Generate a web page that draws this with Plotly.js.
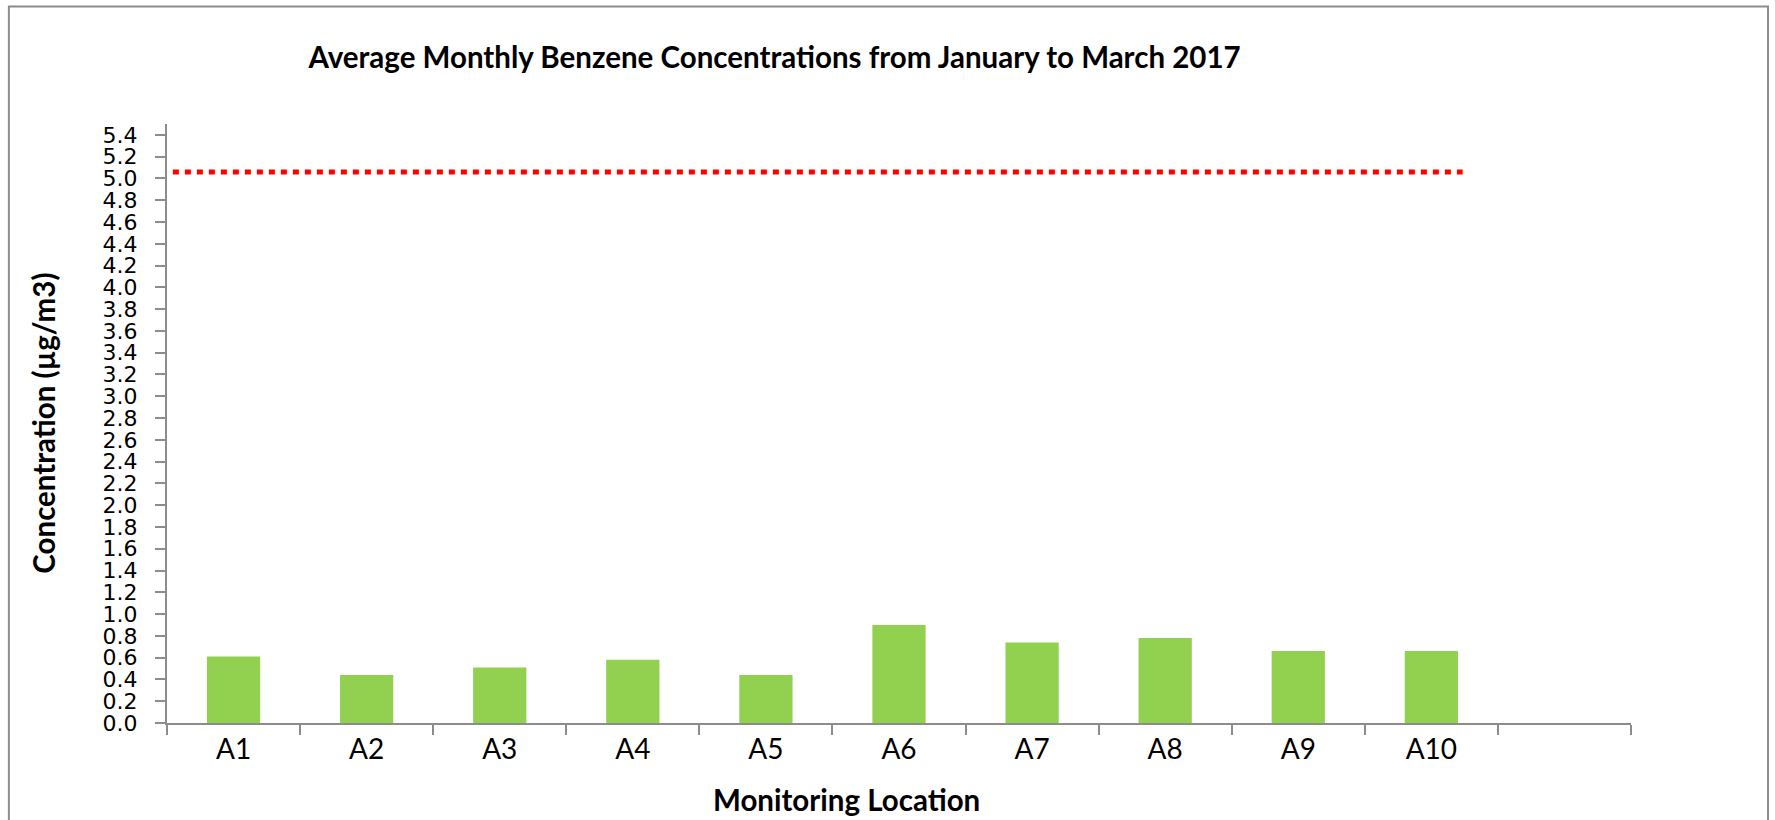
<!DOCTYPE html>
<html>
<head>
<meta charset="utf-8">
<script src="https://cdn.plot.ly/plotly-3.0.1.min.js"></script>
<style>
  html, body { margin: 0; padding: 0; background: #ffffff; overflow: hidden; }
  #chart { width: 1775px; height: 820px; }
</style>
</head>
<body>
<div id="chart"></div>
<script>
// ---- data ----
const locations = ['A1', 'A2', 'A3', 'A4', 'A5', 'A6', 'A7', 'A8', 'A9', 'A10', ' '];
const benzene   = [0.61, 0.44, 0.51, 0.58, 0.44, 0.90, 0.74, 0.78, 0.66, 0.66, null];
const limitValue = [5.06];

const chartTitle = 'Average Monthly Benzene Concentrations from January to March 2017';
const yTitle = 'Concentration (µg/m3)';
const xTitle = 'Monitoring Location';

const trace = {
  type: 'bar',
  x: locations,
  y: benzene,
  marker: { color: '#92D050', line: { width: 0 } },
  hoverinfo: 'x+y'
};

const layout = {
  width: 1775,
  height: 820,
  paper_bgcolor: '#ffffff',
  plot_bgcolor: '#ffffff',
  margin: { l: 167, r: 144, t: 124, b: 97, pad: 0 },
  showlegend: false,
  bargap: 0.6,
  title: {
    text: '<b>' + chartTitle + '</b>',
    font: { family: 'Lato, Carlito, sans-serif', size: 29.5, color: '#000000' },
    xref: 'paper', x: 0.415, xanchor: 'center',
    yref: 'container', y: 0.93, yanchor: 'middle'
  },
  xaxis: {
    type: 'category',
    categoryorder: 'array',
    categoryarray: locations,
    range: [-0.5, 10.5],
    showline: true, linecolor: '#8c8c8c', linewidth: 2,
    ticks: 'outside', tickson: 'boundaries', ticklen: 10, tickwidth: 2, tickcolor: '#8c8c8c',
    tickfont: { family: 'Lato, Carlito, sans-serif', size: 28, color: '#000000' },
    showgrid: false, zeroline: false, fixedrange: true
  },
  yaxis: {
    range: [0, 5.5],
    dtick: 0.2, tick0: 0,
    tickformat: '.1f',
    showline: true, linecolor: '#8c8c8c', linewidth: 2,
    ticks: 'outside', ticklen: 10, tickwidth: 2, tickcolor: '#8c8c8c',
    tickfont: { family: '"DejaVu Sans", Verdana, sans-serif', size: 22, color: '#000000' },
    ticklabelstandoff: 13,
    showgrid: false, zeroline: false, fixedrange: true
  },
  shapes: [
    {
      type: 'line', xref: 'paper', yref: 'y',
      x0: 0.004, x1: 0.885, y0: limitValue[0], y1: limitValue[0],
      line: { color: '#FF0000', width: 5, dash: '6px,6px' }
    },
    {
      type: 'rect', xref: 'paper', yref: 'paper',
      x0: -0.108, x1: 1.0936, y0: -0.25, y1: 1.196,
      line: { color: '#8c8c8c', width: 2 },
      fillcolor: 'rgba(0,0,0,0)', layer: 'below'
    }
  ],
  annotations: [
    {
      text: '<b>' + yTitle + '</b>',
      xref: 'paper', yref: 'paper', x: -0.0846, y: 0.5,
      xanchor: 'center', yanchor: 'middle', textangle: -90, showarrow: false,
      font: { family: 'Lato, Carlito, sans-serif', size: 29.5, color: '#000000' }
    },
    {
      text: '<b>' + xTitle + '</b>',
      xref: 'paper', yref: 'paper', x: 0.4644, y: -0.128,
      xanchor: 'center', yanchor: 'middle', showarrow: false,
      font: { family: 'Lato, Carlito, sans-serif', size: 29.5, color: '#000000' }
    }
  ]
};

Plotly.newPlot('chart', [trace], layout, { displayModeBar: false, staticPlot: true });
</script>
</body>
</html>
